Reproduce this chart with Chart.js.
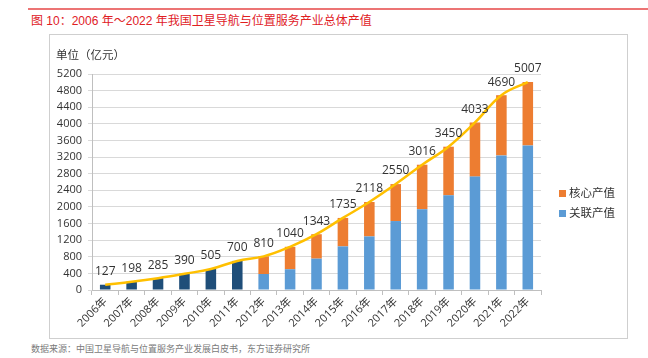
<!DOCTYPE html>
<html>
<head>
<meta charset="utf-8">
<script src="https://cdn.jsdelivr.net/npm/chart.js@4.4.1/dist/chart.umd.min.js"></script>
<style>
    body { margin: 0; width: 648px; height: 358px; background: #fff; position: relative; overflow: hidden;
           font-family: "Open Sans", "Noto Sans CJK SC", sans-serif; }
    .topline { position: absolute; left: 28px; width: 620px; top: 8px; height: 2px; background: #ec7474; z-index: 5; }
    .title { position: absolute; left: 31px; top: 11px; font-size: 12px; color: #e0201f;
             font-family: "Liberation Sans", "Noto Sans CJK SC", sans-serif; white-space: nowrap; }
    .box { position: absolute; left: 49px; top: 34px; width: 577px; height: 303px; border: 1px solid #cfcfcf; }
    .wrap { position: absolute; left: 49px; top: 34px; width: 578px; height: 304px; }
    .unit { position: absolute; left: 56px; top: 46px; font-size: 11.5px; color: #333;
            font-family: "Noto Sans CJK SC", sans-serif; }
    .legend { position: absolute; left: 559px; top: 182px; font-size: 11.5px; color: #333;
              font-family: "Noto Sans CJK SC", sans-serif; }
    .legend div { height: 20px; line-height: 20px; white-space: nowrap; }
    .legend span { display: inline-block; width: 7px; height: 7px; margin-right: 3px; vertical-align: 0px; }
    .source { position: absolute; left: 31px; top: 342px; font-size: 9px; color: #7a7a7a;
              font-family: "Noto Sans CJK SC", sans-serif; white-space: nowrap; }
</style>
</head>
<body>
<div class="topline"></div>
<div class="title">图 10：2006 年～2022 年我国卫星导航与位置服务产业总体产值</div>
<div class="box"></div>
<div class="wrap"><canvas id="chart"></canvas></div>
<div class="unit">单位（亿元）</div>
<div class="legend" id="legend"></div>
<div class="source">数据来源：中国卫星导航与位置服务产业发展白皮书，东方证券研究所</div>

<script>
// Data
const years = ['2006年', '2007年', '2008年', '2009年', '2010年', '2011年', '2012年', '2013年', '2014年',
    '2015年', '2016年', '2017年', '2018年', '2019年', '2020年', '2021年', '2022年'];
const totalValue = [127, 198, 285, 390, 505, 700, 810, 1040, 1343, 1735, 2118, 2550, 3016, 3450, 4033, 4690, 5007];
// 2006-2011 only total is shown (dark bars)
const earlyTotal = [127, 198, 285, 390, 505, 700, null, null, null, null, null, null, null, null, null, null, null];
const relatedValue = [null, null, null, null, null, null, 385, 500, 755, 1050, 1290, 1660, 1945, 2280, 2730, 3240, 3480];
const coreValue = [null, null, null, null, null, null, 425, 540, 588, 685, 828, 890, 1071, 1170, 1303, 1450, 1527];
const yTicks = [0, 400, 800, 1200, 1600, 2000, 2400, 2800, 3200, 3600, 4000, 4400, 4800, 5200];

const COLOR_DARK = '#1f4e79';
const COLOR_BLUE = '#5b9bd5';
const COLOR_ORANGE = '#ed7d31';
const COLOR_LINE = '#ffc000';

// Value labels above the line points
const lineLabels = {
    id: 'lineLabels',
    afterDatasetsDraw(chart) {
        const ctx = chart.ctx;
        const meta = chart.getDatasetMeta(3);
        ctx.save();
        ctx.font = '12px "Open Sans", sans-serif';
        ctx.fillStyle = '#333';
        ctx.textAlign = 'center';
        ctx.textBaseline = 'middle';
        meta.data.forEach((pt, i) => {
            ctx.fillText(String(totalValue[i]), pt.x, pt.y - 13);
        });
        ctx.restore();
    }
};

const ctx = document.getElementById('chart').getContext('2d');
const chart = new Chart(ctx, {
    data: {
        labels: years,
        datasets: [{
            type: 'bar',
            label: '总体产值',
            data: earlyTotal,
            backgroundColor: COLOR_DARK,
            order: 1
        }, {
            type: 'bar',
            label: '关联产值',
            data: relatedValue,
            backgroundColor: COLOR_BLUE,
            order: 1
        }, {
            type: 'bar',
            label: '核心产值',
            data: coreValue,
            backgroundColor: COLOR_ORANGE,
            order: 1
        }, {
            type: 'line',
            label: '合计',
            data: totalValue,
            borderColor: COLOR_LINE,
            borderWidth: 2.5,
            pointRadius: 0,
            tension: 0.4,
            stack: 'line',
            order: 0
        }]
    },
    options: {
        responsive: true,
        maintainAspectRatio: false,
        animation: false,
        layout: { padding: { left: 0, top: 40, right: 86, bottom: 0 } },
        datasets: { bar: { categoryPercentage: 0.8, barPercentage: 0.5 } },
        plugins: {
            legend: { display: false },
            tooltip: { enabled: false }
        },
        scales: {
            x: {
                stacked: true,
                grid: { offset: true, drawOnChartArea: false, drawTicks: true, tickLength: 5, color: '#bfbfbf' },
                border: { color: '#bfbfbf' },
                ticks: {
                    minRotation: 45, maxRotation: 45, padding: 0,
                    color: '#333',
                    font: { size: 11, family: '"Open Sans", "Noto Sans CJK SC", sans-serif' }
                },
                afterFit(scale) { scale.height = 48; }
            },
            y: {
                stacked: true,
                min: 0,
                max: 5200,
                afterBuildTicks(scale) { scale.ticks = yTicks.map(v => ({ value: v })); },
                grid: { color: '#d9d9d9', tickLength: 4 },
                border: { color: '#bfbfbf' },
                ticks: {
                    padding: 6,
                    color: '#333',
                    font: { size: 11, family: '"Open Sans", sans-serif' },
                    callback: value => String(value)
                },
                afterFit(scale) { scale.width = 43; }
            }
        }
    },
    plugins: [lineLabels]
});

// Legend: orange on top, blue below
const legendItems = [chart.data.datasets[2], chart.data.datasets[1]];
document.getElementById('legend').innerHTML = legendItems.map(ds =>
    `<div><span style="background:${ds.backgroundColor}"></span>${ds.label}</div>`).join('');
</script>
</body>
</html>
